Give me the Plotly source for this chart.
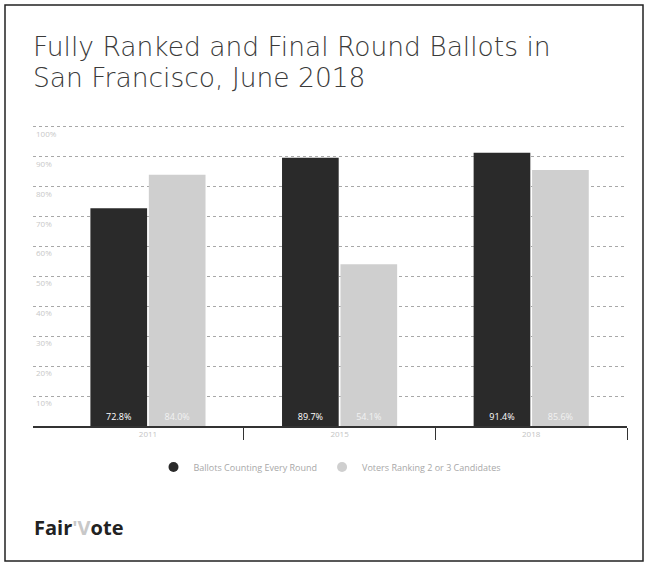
import plotly.graph_objects as go

categories = ["2011", "2015", "2018"]
ballots_every_round = [72.8, 89.7, 91.4]
ranking_2_or_3 = [84.0, 54.1, 85.6]
y_ticks = [0, 10, 20, 30, 40, 50, 60, 70, 80, 90, 100]
y_tick_labels = ["0", "10%", "20%", "30%", "40%", "50%", "60%", "70%", "80%", "90%", "100%"]
series_names = ["Ballots Counting Every Round", "Voters Ranking 2 or 3 Candidates"]
series_colors = ["#2a2a2a", "#cfcfcf"]
title_lines = ["Fully Ranked and Final Round Ballots in", "San Francisco, June 2018"]

W, H = 648, 566
L, R, B = 33, 21, 140
Y_TOP = 101.0
T = 127 - round((Y_TOP - 100) * (H - 127 - B) / 100)

fig = go.Figure()
for vals, name, col, tcol in [
    (ballots_every_round, series_names[0], series_colors[0], "white"),
    (ranking_2_or_3, series_names[1], series_colors[1], "#f2f2f2"),
]:
    fig.add_trace(go.Bar(
        x=categories, y=vals, name=name, showlegend=False,
        marker=dict(color=col, line=dict(width=0)),
        text=[f"{v}%" for v in vals], textposition="inside",
        insidetextanchor="start", textfont=dict(color=tcol, size=9, family="Open Sans"),
        textangle=0,
    ))
for name, col in zip(series_names, series_colors):
    fig.add_trace(go.Scatter(
        x=[None], y=[None], mode="markers", name=name,
        marker=dict(symbol="circle", size=10, color=col),
    ))

pw = W - L - R
ph = H - T - B

def px(x):
    return (x - L) / pw

def py(y):
    return (H - B - y) / ph

fig.update_layout(
    width=W, height=H,
    margin=dict(l=L, r=R, t=T, b=B),
    paper_bgcolor="white", plot_bgcolor="white",
    barmode="group", bargap=0.39, bargroupgap=0.03,
    showlegend=True,
    legend=dict(
        orientation="h", x=0.5, xanchor="center", y=py(467), yanchor="middle",
        font=dict(family="Open Sans", size=9, color="#a8a8a8"),
        itemwidth=30, tracegroupgap=0,
    ),
    xaxis=dict(
        type="category", range=[-0.6, 2.5],
        tickson="boundaries", ticks="outside", ticklen=12, tickcolor="#333",
        tickwidth=1.2,
        showline=True, linecolor="#333", linewidth=1.5,
        tickfont=dict(family="Open Sans", size=8, color="#c4c4c4"),
        showgrid=False,
    ),
    yaxis=dict(
        range=[0, Y_TOP], tickvals=y_ticks, ticktext=y_tick_labels,
        ticklabelposition="inside", ticklabelshift=7, ticklabelstandoff=0,
        tickfont=dict(family="Open Sans", size=8, color="#c8c8c8"),
        showgrid=True, gridcolor="#a8a8a8", griddash="dot", gridwidth=1,
        zeroline=False, showline=False, ticks="",
    ),
)

# title lines
for line, yc in zip(title_lines, [47, 77]):
    fig.add_annotation(
        xref="paper", yref="paper", x=px(31), y=py(yc), xanchor="left", yanchor="middle",
        text=line, showarrow=False,
        font=dict(family="DejaVu Sans", size=26.5, color="#3a3a3a", weight=200),
    )

# outer frame
fig.add_shape(type="rect", xref="paper", yref="paper",
              x0=px(5), x1=px(643), y0=py(561), y1=py(5),
              line=dict(color="#222", width=1.5), layer="below")

# FairVote logo
fig.add_annotation(
    xref="paper", yref="paper", x=px(32), y=py(527), xanchor="left", yanchor="middle",
    text="<b>Fair<span style='color:#c8c8c8'>'V</span>ote</b>", showarrow=False,
    font=dict(family="Open Sans", size=20, color="#222"),
)

fig.write_html("out.html")
